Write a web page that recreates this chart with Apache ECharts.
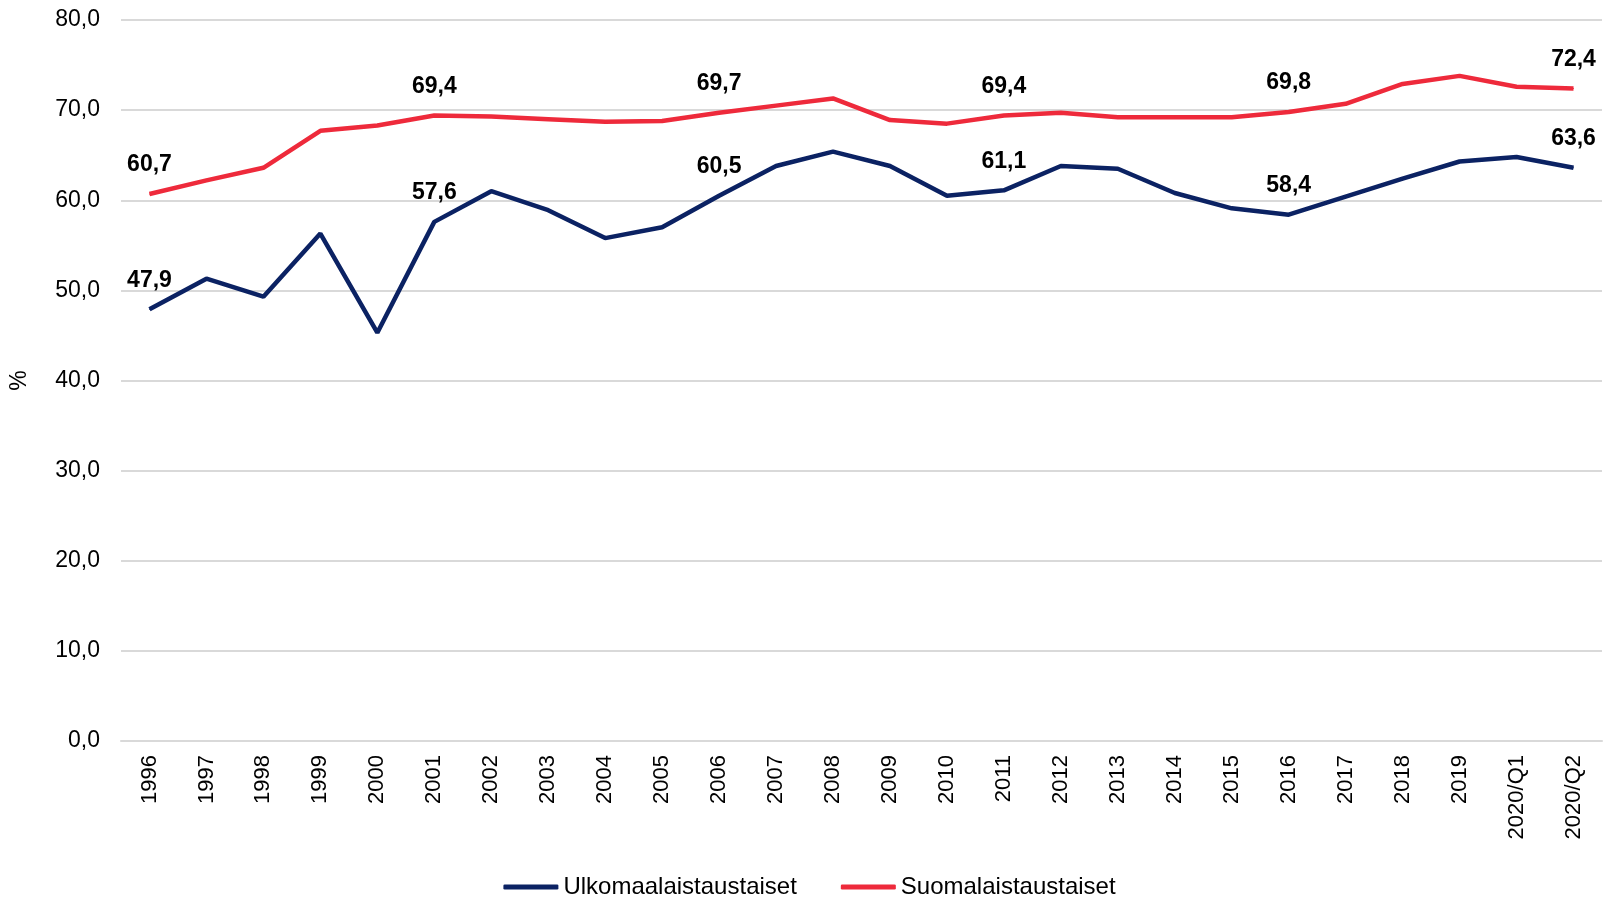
<!DOCTYPE html>
<html>
<head>
<meta charset="utf-8">
<script src="https://cdn.jsdelivr.net/npm/echarts@6/dist/echarts.min.js"></script>
<style>
    html, body { margin: 0; padding: 0; background: #fff; }
    #chart { width: 1619px; height: 900px; }
</style>
</head>
<body>
<div id="chart"></div>
<script>
// kategoriat (vuodet)
const years = ['1996', '1997', '1998', '1999', '2000', '2001', '2002', '2003', '2004', '2005',
    '2006', '2007', '2008', '2009', '2010', '2011', '2012', '2013', '2014', '2015',
    '2016', '2017', '2018', '2019', '2020/Q1', '2020/Q2'];

// työllisyysaste, %
const ulkomaalais = [47.9, 51.3, 49.3, 56.3, 45.3, 57.6, 61.0, 58.9, 55.8, 57.0,
    60.5, 63.8, 65.4, 63.8, 60.5, 61.1, 63.8, 63.5, 60.8, 59.1,
    58.4, 60.4, 62.4, 64.3, 64.8, 63.6];
const suomalais = [60.7, 62.2, 63.6, 67.7, 68.3, 69.4, 69.3, 69.0, 68.7, 68.8,
    69.7, 70.5, 71.3, 68.9, 68.5, 69.4, 69.7, 69.2, 69.2, 69.2,
    69.8, 70.7, 72.9, 73.8, 72.6, 72.4];

// arvot näytetään joka viidennestä pisteestä
const labelEvery = 5;

const font = 'Liberation Sans, Arial, sans-serif';
const fmt = v => v.toFixed(1).replace('.', ',');

const chart = echarts.init(document.getElementById('chart'));

const mkSeries = (name, data, color) => ({
    name: name,
    type: 'line',
    data: data,
    symbol: 'circle',
    symbolSize: 1,
    showAllSymbol: true,
    lineStyle: { width: 4.5, color: color },
    itemStyle: { color: color },
    label: {
        show: true,
        position: 'top',
        distance: 17,
        fontFamily: font,
        fontSize: 23,
        fontWeight: 'bold',
        color: '#000',
        formatter: p => (p.dataIndex % labelEvery === 0) ? fmt(p.value) : ''
    },
    emphasis: { disabled: true }
});

chart.setOption({
    animation: false,
    grid: { left: 121, right: 17, top: 20, bottom: 159, containLabel: false },
    legend: {
        top: 870,
        left: 'center',
        icon: 'roundRect',
        itemWidth: 55,
        itemHeight: 5,
        itemGap: 44,
        textStyle: { fontFamily: font, fontSize: 24, color: '#000' },
        data: ['Ulkomaalaistaustaiset', 'Suomalaistaustaiset']
    },
    xAxis: {
        type: 'category',
        data: years,
        boundaryGap: true,
        axisLine: { lineStyle: { color: '#d9d9d9', width: 2 } },
        axisTick: { show: false },
        axisLabel: {
            rotate: 90,
            interval: 0,
            margin: 14,
            fontFamily: font,
            fontSize: 22,
            color: '#000'
        }
    },
    yAxis: {
        type: 'value',
        min: 0,
        max: 80,
        interval: 10,
        name: '%',
        nameLocation: 'middle',
        nameGap: 90,
        nameTextStyle: { fontFamily: font, fontSize: 23, color: '#000' },
        axisLine: { show: false },
        axisTick: { show: false },
        axisLabel: {
            margin: 21,
            fontFamily: font,
            fontSize: 23,
            color: '#000',
            formatter: v => fmt(v)
        },
        splitLine: { lineStyle: { color: '#d9d9d9', width: 2 } }
    },
    series: [
        mkSeries('Ulkomaalaistaustaiset', ulkomaalais, '#0b2263'),
        mkSeries('Suomalaistaustaiset', suomalais, '#ee2a3b')
    ]
});
</script>
</body>
</html>
